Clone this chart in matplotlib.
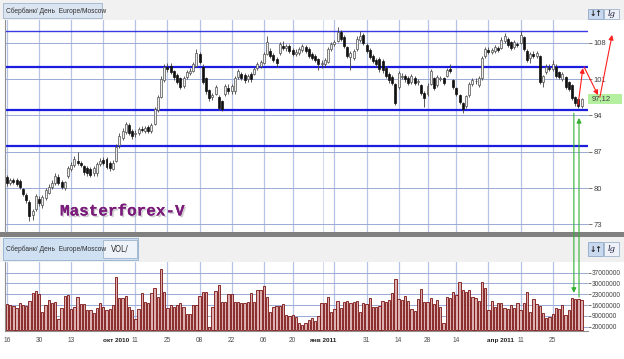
import matplotlib
matplotlib.use('Agg')
import matplotlib.pyplot as plt
from matplotlib.patches import Rectangle
import matplotlib.patheffects as pe
import numpy as np

# daily candles, Sberbank, Aug 2010 - May 2011
opens = [82.1, 80.9, 81.5, 81.6, 81.4, 79.8, 78.7, 77.4, 74.8, 76.0,
         77.8, 76.8, 78.0, 79.0, 80.2, 81.0, 82.2, 81.2, 80.0, 82.4,
         83.6, 84.4, 85.2, 84.8, 84.2, 83.8, 83.6, 82.8, 82.8, 84.6,
         85.4, 85.6, 84.8, 83.6, 85.2, 88.2, 89.6, 90.8, 92.2, 91.0,
         90.4, 90.6, 91.4, 91.0, 91.8, 91.0, 92.4, 95.0, 97.6, 100.8,
         103.4, 103.6, 102.6, 101.8, 101.2, 99.6, 101.4, 102.2, 102.6, 103.6,
         105.8, 103.4, 101.2, 98.8, 97.6, 98.2, 97.6, 96.8, 98.2, 99.2,
         98.6, 98.6, 101.4, 102.0, 101.8, 101.0, 102.0, 102.0, 103.2, 103.6,
         104.0, 105.8, 106.4, 105.6, 104.8, 106.0, 107.4, 107.0, 107.4, 106.6,
         105.8, 106.0, 106.6, 107.2, 106.8, 105.8, 105.4, 104.8, 103.8, 103.8,
         104.2, 106.8, 107.8, 108.4, 110.0, 109.0, 107.2, 105.2, 105.0, 106.8,
         108.6, 109.4, 107.6, 106.6, 105.4, 104.6, 104.8, 104.4, 103.2, 102.0,
         101.4, 100.0, 99.4, 101.4, 101.6, 101.2, 100.4, 101.2, 100.4, 99.8,
         98.4, 98.2, 100.0, 101.2, 99.8, 101.0, 101.2, 101.6, 103.0, 100.8,
         99.2, 98.0, 96.4, 95.8, 98.0, 100.0, 100.6, 99.8, 101.2, 105.4,
         106.6, 106.2, 106.4, 107.0, 107.0, 108.4, 108.8, 108.2, 107.2, 107.8,
         108.0, 109.0, 106.4, 105.0, 105.8, 105.4, 105.4, 100.4, 102.4, 103.2,
         103.0, 103.4, 102.4, 101.0, 101.4, 100.4, 99.8, 97.6, 97.2, 95.8]
highs = [82.6, 82.0, 81.9, 82.0, 81.8, 80.1, 79.0, 77.6, 76.0, 78.8,
         78.5, 78.6, 80.0, 80.8, 81.6, 82.8, 82.7, 81.5, 81.4, 84.2,
         85.0, 86.2, 87.0, 85.2, 84.5, 84.2, 84.0, 84.2, 85.0, 85.8,
         85.9, 86.0, 85.2, 85.4, 88.4, 90.6, 91.5, 92.8, 92.6, 91.4,
         91.2, 91.8, 92.0, 92.0, 92.2, 92.6, 95.6, 97.9, 101.6, 103.8,
         104.0, 104.0, 102.8, 102.2, 101.4, 101.6, 102.8, 103.2, 104.2, 106.8,
         106.2, 103.8, 101.4, 99.0, 98.4, 99.8, 98.0, 97.0, 100.0, 100.0,
         100.0, 101.6, 103.0, 102.4, 102.2, 102.0, 102.4, 103.4, 104.2, 104.6,
         106.2, 109.2, 107.0, 106.0, 105.2, 108.2, 108.4, 107.8, 107.8, 107.0,
         106.8, 107.2, 107.8, 107.6, 107.2, 106.2, 105.8, 105.0, 104.6, 105.0,
         107.2, 108.2, 108.6, 111.0, 110.4, 109.4, 107.4, 106.4, 106.8, 109.2,
         110.2, 109.8, 108.0, 107.0, 105.8, 105.0, 105.2, 104.8, 103.6, 102.4,
         101.8, 100.2, 102.6, 102.2, 102.0, 101.6, 102.0, 101.6, 101.0, 100.0,
         98.6, 100.2, 103.0, 101.4, 101.8, 101.6, 101.4, 103.2, 103.8, 101.0,
         99.4, 98.2, 96.6, 98.0, 100.4, 101.2, 101.2, 101.6, 105.4, 107.2,
         107.2, 107.0, 107.6, 107.4, 109.0, 109.8, 109.0, 108.4, 108.6, 108.2,
         110.2, 109.2, 106.8, 106.2, 106.4, 106.4, 105.6, 101.8, 103.8, 103.8,
         104.6, 103.8, 102.6, 102.4, 101.6, 100.6, 100.0, 97.8, 97.4, 97.4]
lows = [80.3, 80.5, 80.8, 80.4, 79.9, 78.4, 77.2, 73.6, 73.9, 75.6,
        76.6, 76.2, 77.6, 78.8, 79.8, 80.6, 80.6, 79.8, 79.6, 82.0,
        83.2, 84.0, 84.4, 84.0, 82.6, 82.4, 82.2, 82.4, 82.4, 84.2,
        84.4, 83.6, 83.2, 83.4, 85.0, 87.8, 89.2, 90.4, 90.2, 89.4,
        89.8, 90.2, 90.8, 90.6, 90.6, 90.6, 92.2, 94.6, 97.4, 100.4,
        102.4, 102.0, 100.8, 100.0, 99.0, 99.2, 101.0, 101.8, 102.4, 103.4,
        103.8, 100.0, 98.2, 96.8, 97.0, 97.9, 95.0, 94.8, 97.8, 98.2,
        98.2, 98.2, 101.0, 100.8, 100.2, 100.4, 100.4, 101.8, 102.8, 103.2,
        103.8, 105.6, 105.0, 104.2, 103.4, 105.6, 106.6, 106.4, 106.0, 105.4,
        105.4, 105.6, 106.2, 106.0, 105.0, 104.6, 104.2, 102.8, 103.2, 103.4,
        104.0, 106.4, 107.4, 108.2, 108.4, 107.0, 105.0, 102.8, 104.6, 106.4,
        108.2, 107.6, 106.0, 104.8, 104.0, 103.4, 102.4, 102.2, 101.2, 100.2,
        99.8, 96.0, 99.0, 101.0, 100.4, 99.8, 100.0, 99.8, 99.8, 98.0,
        95.6, 97.8, 99.8, 98.8, 99.4, 100.6, 99.8, 101.4, 102.2, 99.0,
        97.8, 96.2, 94.4, 95.4, 97.6, 99.6, 100.0, 99.4, 100.8, 105.0,
        105.8, 105.8, 106.0, 106.2, 106.8, 108.0, 107.2, 106.6, 106.8, 107.2,
        107.8, 106.4, 104.2, 104.0, 105.0, 105.0, 100.0, 99.4, 102.0, 102.6,
        102.6, 101.2, 101.0, 100.6, 99.0, 98.6, 97.0, 95.8, 95.4, 95.4]
closes = [80.9, 81.6, 81.2, 80.7, 80.2, 78.8, 77.6, 74.6, 75.6, 78.4,
          77.2, 78.2, 79.6, 80.2, 81.0, 82.4, 81.0, 80.2, 81.2, 83.8,
          84.4, 85.5, 84.8, 84.5, 83.0, 82.8, 82.6, 83.8, 84.6, 85.2,
          84.8, 84.0, 83.8, 84.8, 88.0, 90.0, 91.0, 92.4, 90.6, 90.0,
          90.6, 91.4, 91.2, 91.6, 91.0, 92.2, 95.2, 97.5, 101.0, 103.4,
          103.0, 102.4, 101.4, 100.4, 99.4, 101.2, 102.4, 102.6, 103.8, 106.0,
          104.2, 100.4, 98.6, 97.4, 98.0, 99.4, 95.4, 95.2, 99.6, 98.6,
          99.6, 101.2, 102.6, 101.2, 100.8, 101.6, 101.0, 103.0, 103.8, 104.2,
          105.8, 108.2, 105.4, 104.6, 104.0, 107.8, 107.0, 107.4, 106.4, 105.8,
          106.2, 106.8, 107.4, 106.4, 105.4, 105.0, 104.6, 103.8, 104.0, 104.6,
          106.8, 107.8, 108.2, 110.0, 108.8, 107.4, 105.4, 106.0, 106.4, 108.8,
          109.2, 108.0, 106.4, 105.2, 104.4, 103.8, 103.0, 102.8, 101.6, 100.8,
          100.2, 96.4, 102.2, 101.6, 101.0, 100.2, 101.6, 100.2, 100.6, 98.4,
          97.4, 99.6, 102.6, 99.2, 101.4, 101.2, 100.2, 102.8, 102.6, 99.4,
          98.2, 96.6, 95.2, 97.8, 100.0, 100.8, 100.6, 101.2, 105.0, 106.8,
          106.2, 106.6, 107.2, 106.6, 108.6, 109.2, 107.6, 107.0, 108.2, 107.6,
          109.4, 106.8, 104.6, 105.8, 105.4, 106.0, 100.4, 101.6, 103.4, 103.0,
          103.8, 101.6, 101.4, 102.0, 99.4, 99.0, 97.4, 96.4, 95.8, 97.12]
# volume, millions of shares
volume_mln = [16.7, 16.1, 15.4, 14.0, 17.1, 16.1, 15.4, 18.8, 23.6, 25.3,
              22.9, 11.8, 16.1, 19.3, 17.1, 18.2, 6.7, 14.0, 21.8, 22.5,
              13.3, 14.6, 21.4, 16.7, 16.7, 12.9, 12.9, 10.7, 14.0, 17.1,
              15.0, 12.9, 13.3, 16.1, 34.4, 20.3, 20.8, 21.8, 14.6, 12.9,
              6.7, 13.5, 23.6, 18.2, 17.6, 23.6, 26.9, 21.4, 39.4, 24.7,
              14.0, 16.1, 15.0, 16.1, 17.6, 15.0, 10.2, 10.2, 16.1, 16.1,
              22.1, 24.3, 24.3, 1.9, 15.0, 25.3, 29.0, 18.2, 18.2, 22.9,
              22.9, 18.2, 18.2, 17.6, 17.1, 18.2, 23.6, 18.2, 25.8, 25.8,
              28.4, 21.4, 11.8, 14.6, 15.4, 15.5, 16.7, 9.6, 8.9, 9.6,
              8.0, 4.1, 3.0, 4.1, 6.3, 7.4, 5.8, 9.0, 17.6, 17.1,
              21.4, 11.8, 13.3, 18.8, 14.4, 18.2, 18.8, 17.1, 18.2, 18.8,
              11.8, 17.1, 16.7, 20.3, 15.0, 15.0, 15.4, 18.8, 18.2, 19.3,
              24.0, 32.7, 19.9, 19.3, 22.1, 18.8, 13.7, 12.4, 19.7, 26.2,
              18.2, 18.2, 20.3, 16.7, 19.3, 15.0, 4.1, 21.0, 20.3, 24.7,
              22.5, 31.2, 25.8, 24.7, 25.8, 21.4, 20.3, 18.8, 31.2, 26.9,
              12.9, 18.8, 15.0, 17.6, 17.1, 14.0, 13.3, 16.1, 14.0, 17.6,
              12.9, 17.6, 24.7, 11.8, 19.7, 16.7, 15.4, 10.7, 7.4, 8.5,
              10.0, 14.0, 13.3, 16.1, 9.6, 12.9, 20.3, 19.7, 19.7, 19.5]

price_ticks = [73, 80, 87, 94, 101, 108]
vol_ticks = [2, 9, 16, 23, 30, 37]
vol_tick_labels = ['2000000', '9000000', '16000000', '23000000', '30000000', '37000000']
levels = [103.3, 95.0, 88.1]      # thick support / resistance lines
level_top = 110.25
grid_days = [0, 10, 20, 30, 40, 50, 60, 70, 80, 89, 102, 112, 122, 131, 140, 150, 160, 170]
day_labels = [(0, '16'), (10, '30'), (20, '13'), (40, '11'), (50, '25'), (60, '08'),
              (70, '22'), (80, '06'), (89, '20'), (112, '31'), (122, '14'), (131, '28'),
              (140, '14'), (160, '11'), (170, '25')]
month_labels = [(29.8, 'окт 2010'), (94.0, 'янв 2011'), (149.6, 'апр 2011')]
last_price = '97,12'
red_arrows = [((177.9, 96.0), (179.4, 103.1)),
              ((179.8, 103.3), (184.1, 97.9)),
              ((184.7, 97.5), (188.5, 109.5))]
green_arrows = [((176.6, 94.4), (176.6, 59.8)),
                ((178.2, 59.0), (178.2, 93.5))]
header = 'Сбербанк/ День  Europe/Moscow'

W, H = 624, 359
fig = plt.figure(figsize=(W / 100, H / 100), dpi=100)
fig.patch.set_facecolor('white')


def fx(px):
    return px / W


def fy(py):
    return 1 - py / H


def box(x, y, w, h, fc, ec='none', z=1, lw=0.6):
    fig.add_artist(Rectangle((fx(x), fy(y + h)), w / W, h / H, transform=fig.transFigure,
                             facecolor=fc, edgecolor=ec, lw=lw, zorder=z))


def ftext(x, y, s, **kw):
    kw.setdefault('va', 'center')
    kw.setdefault('zorder', 6)
    fig.text(fx(x), fy(y), s, **kw)


# ---- top header ----
box(0, 0, W, 20, '#f1f1f1')
box(3, 3, 99, 15, '#dbe5f1', '#9fb4cc')
ftext(6, 11, header, fontsize=4.8, color='#303030', family='Liberation Sans')
box(588, 9, 15, 10, '#c8d8ee', '#8fa8c8')
box(604, 9, 15, 10, '#eef2f8', '#a0b4cc')
ftext(595.5, 14, '↓↑', fontsize=5.5, weight='bold', ha='center', color='#202020')
ftext(611.5, 14, 'lg', fontsize=6, style='italic', family='serif', ha='center', color='#202040')

# ---- separator and volume header ----
box(0, 232, W, 5, '#808080')
box(0, 237, W, 25, '#f0f0f0')
box(3, 238, 135, 22, '#cfe0f3', '#8fb0d0')
ftext(6, 249, header, fontsize=4.8, color='#303030', family='Liberation Sans')
box(103, 240, 34, 18, '#eef3fa', '#9fb4cc')
ftext(120, 249, 'VOL/', fontsize=5.5, ha='center', color='#303030')
box(588, 242, 15, 14, '#c8d8ee', '#8fa8c8')
box(604, 242, 15, 14, '#eef2f8', '#a0b4cc')
ftext(595.5, 249, '↓↑', fontsize=5.5, weight='bold', ha='center', color='#202020')
ftext(611.5, 249, 'lg', fontsize=6, style='italic', family='serif', ha='center', color='#202040')

# ---- last price label ----
box(588, 94, 34, 10, '#b5f0a0')
ftext(592, 99, last_price, fontsize=5.5, color='#404040', family='Liberation Sans')

# ---- price panel ----
ax = fig.add_axes([fx(5), fy(232), (588 - 5) / W, (232 - 20) / H])
ax.set_zorder(5)
ax.patch.set_alpha(0)
ax.set_xlim(-0.62, 181.0)
ax.set_ylim(71.53, 112.37)

x = np.arange(len(closes))
o = np.array(opens)
hi = np.array(highs)
lo = np.array(lows)
c = np.array(closes)
up = c >= o

for g in grid_days:
    ax.axvline(g, color='#b6c3e6', lw=0.9, zorder=0)
ax.axvline(98.4, color='#d3dbef', lw=0.8, zorder=0)
for t in price_ticks:
    ax.axhline(t, color='#9aaad6', lw=0.7, zorder=0)
for lev in levels:
    ax.axhline(lev, color='#1c1ce0', lw=1.6, zorder=1)
ax.axhline(level_top, color='#3a3ae6', lw=1.0, zorder=1)

ax.vlines(x, lo, hi, color='#404040', lw=0.6, zorder=3)
ax.bar(x[up], (c - o)[up], bottom=o[up], width=0.62, color='#eeeeee',
       edgecolor='#505050', lw=0.5, zorder=4)
ax.bar(x[~up], (o - c)[~up], bottom=c[~up], width=0.62, color='#111111',
       edgecolor='#111111', lw=0.5, zorder=4)

ax.yaxis.tick_right()
ax.set_yticks(price_ticks)
ax.set_yticklabels([str(t) for t in price_ticks], family='Liberation Sans')
ax.tick_params(axis='y', length=3, width=0.6, color='#606060', labelsize=5.5,
               labelcolor='#404040', pad=1)
ax.set_xticks([])
for s in ['top', 'bottom', 'right']:
    ax.spines[s].set_visible(False)
ax.spines['left'].set_color('#909090')
ax.spines['left'].set_linewidth(0.8)

for start, end in red_arrows:
    ax.annotate('', xy=end, xytext=start, annotation_clip=False, zorder=8,
                arrowprops=dict(arrowstyle='-|>', color='#ff2020', lw=0.8,
                                mutation_scale=7, shrinkA=0, shrinkB=0))
for start, end in green_arrows:
    ax.annotate('', xy=end, xytext=start, annotation_clip=False, zorder=8,
                arrowprops=dict(arrowstyle='-|>', color='#33b033', lw=0.8,
                                mutation_scale=7, shrinkA=0, shrinkB=0))

ftext(60, 211, 'Masterforex-V', fontsize=11.5, family='Liberation Mono', weight='bold',
      color='#7a1a7a',
      path_effects=[pe.withSimplePatchShadow(offset=(1.2, -1.2), shadow_rgbFace='#b0b0b0', alpha=0.6),
                    pe.Normal()])

# ---- volume panel ----
axv = fig.add_axes([fx(5), fy(331), (588 - 5) / W, (331 - 262) / H])
axv.set_zorder(2)
axv.set_xlim(-0.62, 181.0)
axv.set_ylim(-0.8, 43.9)
for g in grid_days:
    axv.axvline(g, color='#b6c3e6', lw=0.9, zorder=0)
axv.axvline(98.4, color='#d3dbef', lw=0.8, zorder=0)
for t in vol_ticks:
    axv.axhline(t, color='#9aaad6', lw=0.7, zorder=0)
axv.bar(x, volume_mln, width=0.72, color='#dcb0b0', edgecolor='#7a1010', lw=0.6, zorder=3)
axv.yaxis.tick_right()
axv.set_yticks(vol_ticks)
axv.set_yticklabels(vol_tick_labels, family='Liberation Sans')
axv.tick_params(axis='y', length=2, width=0.6, color='#606060', labelsize=4.7,
                labelcolor='#404040', pad=0.5)
axv.set_xticks([])
for s in ['top', 'right']:
    axv.spines[s].set_visible(False)
axv.spines['left'].set_color('#909090')
axv.spines['bottom'].set_color('#909090')

tr = axv.get_xaxis_transform()
for i, lab in day_labels:
    axv.text(i, -0.14, lab, transform=tr, ha='center', va='center', fontsize=4.8,
             color='#505050', clip_on=False, family='Liberation Sans')
for i, lab in month_labels:
    axv.text(i, -0.14, lab, transform=tr, ha='left', va='center', fontsize=4.6,
             weight='bold', color='#202020', clip_on=False, family='Liberation Sans')

fig.savefig('out.png', dpi=100)
